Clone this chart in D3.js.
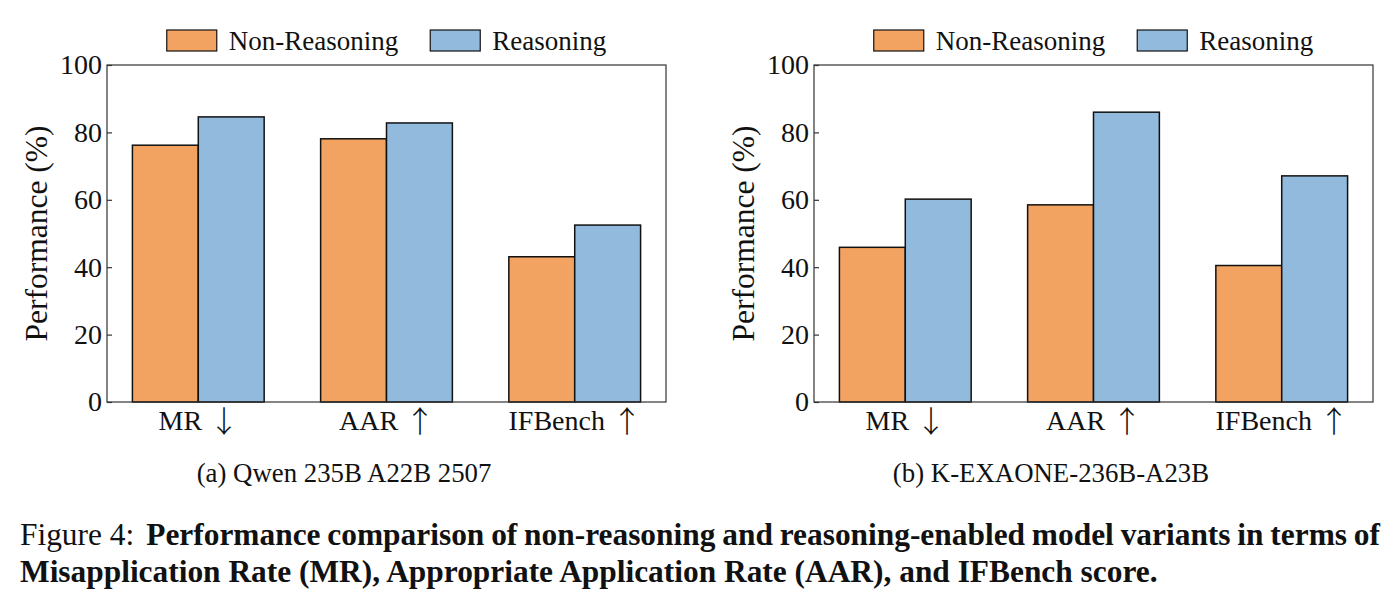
<!DOCTYPE html>
<html>
<head>
<meta charset="utf-8">
<script src="https://cdn.jsdelivr.net/npm/d3@7"></script>
<style>
  body { margin: 0; background: #fff; }
  svg { display: block; font-family: "Liberation Serif", "Times New Roman", serif; }
</style>
</head>
<body>
<div id="chart"></div>
<script>
// Data
const categories = ["MR", "AAR", "IFBench"];
const categoryArrows = ["\u2193", "\u2191", "\u2191"];
const seriesNames = ["Non-Reasoning", "Reasoning"];
const qwenNonReasoning = [76.2, 78.1, 43.1];
const qwenReasoning = [84.6, 82.8, 52.5];
const exaoneNonReasoning = [45.9, 58.5, 40.5];
const exaoneReasoning = [60.2, 86.0, 67.1];
const yTicks = [0, 20, 40, 60, 80, 100];

const colors = ["#f3a361", "#91badd"];
const serif = "Liberation Serif, serif";

const svg = d3.select("#chart")
    .append("svg")
    .attr("width", 1399)
    .attr("height", 603);

// Panel setup
const panels = [
    { left: 107, subCenter: 344, caption: "(a) Qwen 235B A22B 2507", values: [qwenNonReasoning, qwenReasoning] },
    { left: 814, subCenter: 1051, caption: "(b) K-EXAONE-236B-A23B", values: [exaoneNonReasoning, exaoneReasoning] }
];
const plotTop = 65;
const plotWidth = 559;
const plotHeight = 337;
const barWidth = 0.35;

panels.forEach(p => {
    const g = svg.append("g").attr("transform", `translate(${p.left}, ${plotTop})`);

    const xScale = d3.scaleLinear()
        .domain([-0.485, 2.485])
        .range([0, plotWidth]);

    const yScale = d3.scaleLinear()
        .domain([0, 100])
        .range([plotHeight, 0]);

    // Bars
    p.values.forEach((vals, si) => {
        g.selectAll(null)
            .data(vals)
            .enter()
            .append("rect")
            .attr("x", (d, i) => xScale(i + (si === 0 ? -barWidth : 0)))
            .attr("y", d => yScale(d))
            .attr("width", xScale(barWidth) - xScale(0))
            .attr("height", d => yScale(0) - yScale(d))
            .attr("fill", colors[si])
            .attr("stroke", "#111")
            .attr("stroke-width", 1.5);
    });

    // Frame
    g.append("rect")
        .attr("width", plotWidth)
        .attr("height", plotHeight)
        .attr("fill", "none")
        .attr("stroke", "#333")
        .attr("stroke-width", 1.2);

    // Y axis, inward ticks
    const yAxis = d3.axisLeft(yScale)
        .tickValues(yTicks)
        .tickSizeInner(-5)
        .tickSizeOuter(0)
        .tickPadding(5);
    const yg = g.append("g").call(yAxis);
    yg.select(".domain").remove();
    yg.selectAll("line").attr("stroke", "#333").attr("stroke-width", 1.2);
    yg.selectAll("text")
        .attr("font-family", serif)
        .attr("font-size", 28)
        .attr("fill", "#111");

    // X axis labels, no tick marks
    const xAxis = d3.axisBottom(xScale)
        .tickValues([0, 1, 2])
        .tickFormat(i => categories[i])
        .tickSize(0)
        .tickPadding(8);
    const xg = g.append("g")
        .attr("transform", `translate(0, ${plotHeight})`)
        .call(xAxis);
    xg.select(".domain").remove();
    xg.selectAll("text")
        .attr("font-family", serif)
        .attr("font-size", 28)
        .attr("fill", "#111")
        .text(null)
        .each(function(i) {
            const t = d3.select(this);
            t.append("tspan").text(categories[i] + " ");
            t.append("tspan")
                .attr("font-family", "Noto Sans CJK JP, DejaVu Sans, sans-serif")
                .attr("font-weight", 300)
                .attr("font-size", 30)
                .attr("dy", 2)
                .text(categoryArrows[i]);
        });

    // Y label
    g.append("text")
        .attr("transform", `translate(${-71}, ${plotHeight / 2}) rotate(-90)`)
        .attr("text-anchor", "middle")
        .attr("dominant-baseline", "central")
        .attr("font-size", 31.5)
        .attr("fill", "#111")
        .text("Performance (%)");

    // Legend above the plot
    const lg = svg.append("g");
    let cx = 0;
    seriesNames.forEach((name, si) => {
        lg.append("rect")
            .attr("x", cx)
            .attr("y", 30)
            .attr("width", 50)
            .attr("height", 21)
            .attr("fill", colors[si])
            .attr("stroke", "#111")
            .attr("stroke-width", 1.2);
        const t = lg.append("text")
            .attr("x", cx + 62)
            .attr("y", 41)
            .attr("dominant-baseline", "central")
            .attr("font-size", 27)
            .attr("fill", "#111")
            .text(name);
        cx += 62 + t.node().getComputedTextLength() + 32;
    });
    const lw = cx - 32;
    lg.attr("transform", `translate(${p.left + plotWidth / 2 - lw / 2}, 0)`);

    // Sub-caption
    svg.append("text")
        .attr("x", p.subCenter)
        .attr("y", 482)
        .attr("text-anchor", "middle")
        .attr("font-size", 26.8)
        .attr("fill", "#111")
        .text(p.caption);
});

// Figure caption, first line justified
const capSize = 31.4;
const line1Words = "Performance comparison of non-reasoning and reasoning-enabled model variants in terms of".split(" ");
const fig = svg.append("text")
    .attr("x", 20)
    .attr("y", 545)
    .attr("font-size", capSize)
    .attr("fill", "#111")
    .text("Figure 4:");
const startX = 20 + fig.node().getComputedTextLength() + 12;
const endX = 1380;
const words = line1Words.map(w => svg.append("text")
    .attr("y", 545)
    .attr("font-size", capSize)
    .attr("font-weight", "bold")
    .attr("fill", "#111")
    .text(w));
const totalW = d3.sum(words, w => w.node().getComputedTextLength());
const gap = (endX - startX - totalW) / (words.length - 1);
let wx = startX;
words.forEach(w => {
    w.attr("x", wx);
    wx += w.node().getComputedTextLength() + gap;
});

svg.append("text")
    .attr("x", 20)
    .attr("y", 582)
    .attr("font-size", capSize)
    .attr("font-weight", "bold")
    .attr("fill", "#111")
    .text("Misapplication Rate (MR), Appropriate Application Rate (AAR), and IFBench score.");
</script>
</body>
</html>
